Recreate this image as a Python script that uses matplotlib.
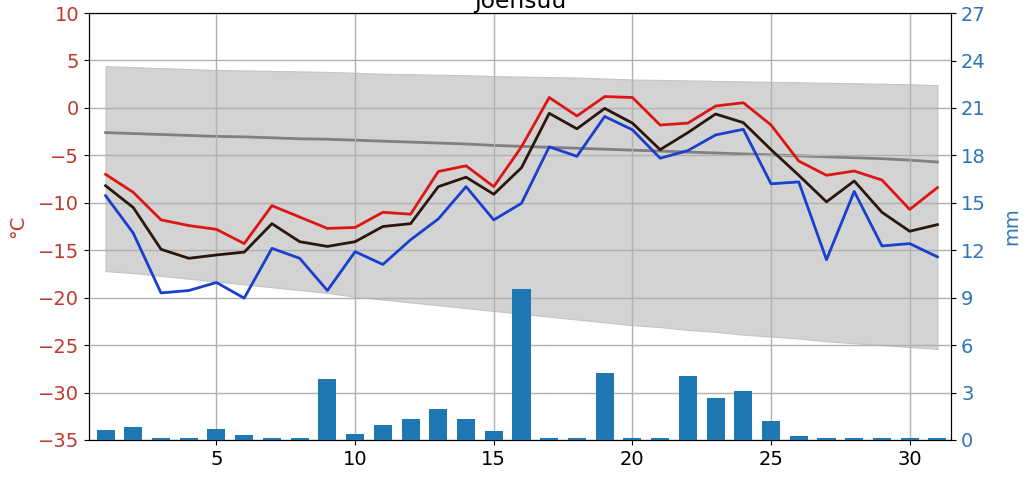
import numpy as np
import matplotlib
matplotlib.use("Agg")
import matplotlib.pyplot as plt

# Päivät
paiva = np.arange(1, 32)

# Lämpötilat (°C)
t_max = [-7.0, -8.9, -11.8, -12.4, -12.8, -14.3, -10.3, -11.5, -12.7, -12.6,
         -11.0, -11.2, -6.7, -6.1, -8.3, -4.1, 1.1, -0.85, 1.2, 1.1,
         -1.8, -1.6, 0.2, 0.55, -1.8, -5.6, -7.1, -6.65, -7.6, -10.7, -8.4]
t_mean = [-8.2, -10.5, -14.9, -15.85, -15.5, -15.2, -12.2, -14.1, -14.6, -14.1,
          -12.5, -12.2, -8.3, -7.3, -9.1, -6.3, -0.57, -2.2, -0.05, -1.6,
          -4.4, -2.6, -0.64, -1.55, -4.4, -7.1, -9.9, -7.7, -11.0, -13.0, -12.3]
t_min = [-9.25, -13.2, -19.5, -19.25, -18.4, -20.05, -14.8, -15.85, -19.25, -15.15,
         -16.5, -13.9, -11.7, -8.3, -11.8, -10.05, -4.1, -5.1, -0.9, -2.3,
         -5.3, -4.5, -2.85, -2.25, -8.0, -7.8, -16.0, -8.8, -14.55, -14.3, -15.7]

# Pitkän ajan keskiarvo ja vaihteluväli
ka = [-2.6, -2.7, -2.8, -2.9, -3.0, -3.05, -3.15, -3.25, -3.3, -3.4,
      -3.5, -3.6, -3.7, -3.8, -3.95, -4.05, -4.15, -4.25, -4.35, -4.45,
      -4.55, -4.65, -4.75, -4.85, -4.95, -5.05, -5.15, -5.25, -5.35, -5.5, -5.7]
ylaraja = [4.4, 4.3, 4.2, 4.1, 4.0, 3.95, 3.9, 3.85, 3.8, 3.7,
           3.6, 3.55, 3.5, 3.45, 3.35, 3.3, 3.25, 3.2, 3.1, 3.0,
           2.95, 2.9, 2.85, 2.8, 2.75, 2.7, 2.65, 2.6, 2.55, 2.5, 2.4]
alaraja = [-17.2, -17.4, -17.7, -18.0, -18.3, -18.6, -18.9, -19.2, -19.5, -19.9,
           -20.2, -20.5, -20.8, -21.1, -21.4, -21.7, -22.0, -22.3, -22.6, -22.9,
           -23.1, -23.4, -23.6, -23.9, -24.1, -24.3, -24.6, -24.8, -25.0, -25.2, -25.4]

# Sademäärä (mm)
sade = [0.65, 0.8, 0.1, 0.1, 0.7, 0.3, 0.1, 0.1, 3.85, 0.4,
        0.95, 1.35, 1.95, 1.35, 0.55, 9.55, 0.1, 0.1, 4.25, 0.1,
        0.1, 4.05, 2.65, 3.1, 1.2, 0.25, 0.1, 0.1, 0.1, 0.1, 0.1]

plt.rcParams['font.size'] = 14

fig = plt.figure(figsize=(10.34, 4.84), dpi=100)
ax = fig.add_axes([0.086, 0.091, 0.834, 0.882])

ax.fill_between(paiva, alaraja, ylaraja, facecolor='#d3d3d3', edgecolor='#c4c4c4', lw=0.8, zorder=1)
ax.plot(paiva, ka, color='#808080', lw=2, zorder=2)
ax.plot(paiva, t_max, color='#dd1515', lw=2, zorder=3)
ax.plot(paiva, t_mean, color='#2b160b', lw=2, zorder=3)
ax.plot(paiva, t_min, color='#1a3fcc', lw=2, zorder=3)

ax.set_xlim(0.4, 31.5)
ax.set_ylim(-35, 10)
ax.set_yticks(np.arange(-35, 11, 5))
ax.set_xticks([5, 10, 15, 20, 25, 30])
ax.grid(True, color='#b0b0b0', lw=1)
ax.set_axisbelow(False)
ax.tick_params(axis='y', color='black', labelcolor='#c0392b')
ax.set_ylabel('°C', color='#c0392b', labelpad=8)
ax.set_title('Joensuu', pad=4)

ax2 = ax.twinx()
ax2.bar(paiva, sade, width=0.65, color='#1f77b4', zorder=3)
ax2.set_ylim(0, 27)
ax2.set_yticks(np.arange(0, 28, 3))
ax2.tick_params(axis='y', color='black', labelcolor='#2e75b6')
ax2.set_ylabel('mm', color='#2e75b6', labelpad=12)

plt.savefig('out.png', dpi=100)
